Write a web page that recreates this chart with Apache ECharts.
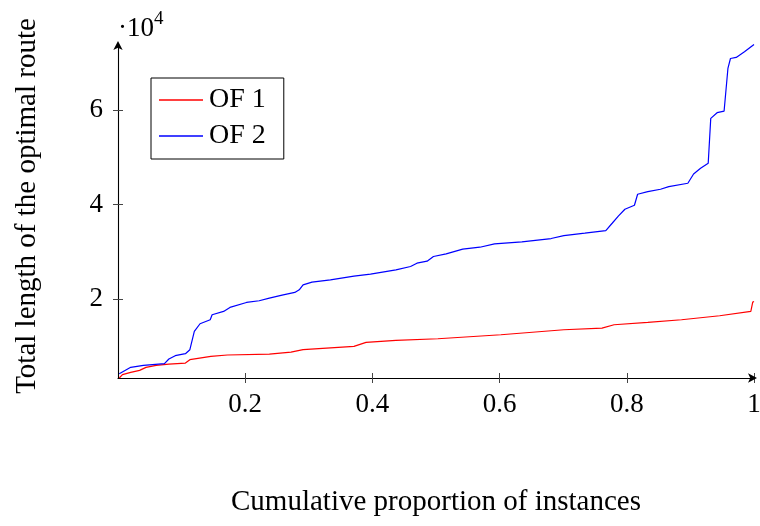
<!DOCTYPE html>
<html>
<head>
<meta charset="utf-8">
<script src="https://cdn.jsdelivr.net/npm/echarts@6/dist/echarts.min.js"></script>
<style>
html,body{margin:0;padding:0;background:#fff;}
#chart{width:760px;height:526px;}
</style>
</head>
<body>
<div id="chart"></div>
<script>
// Data
var seriesNames = ['OF 1', 'OF 2'];
var xOF1 = [0.002, 0.007, 0.020, 0.034, 0.044, 0.060, 0.080, 0.106, 0.113, 0.146, 0.172, 0.238, 0.272, 0.291, 0.371, 0.390, 0.437, 0.503, 0.602, 0.701, 0.761, 0.780, 0.833, 0.886, 0.946, 0.995, 0.998, 1.000];
var yOF1 = [3210, 3920, 4410, 4830, 5470, 5890, 6170, 6380, 7090, 7800, 8080, 8290, 8710, 9210, 9910, 10760, 11180, 11530, 12380, 13440, 13790, 14500, 14990, 15560, 16400, 17320, 19290, 19440];
var xOF2 = [0.002, 0.020, 0.040, 0.073, 0.080, 0.090, 0.106, 0.113, 0.120, 0.129, 0.145, 0.148, 0.166, 0.176, 0.202, 0.222, 0.238, 0.258, 0.278, 0.285, 0.291, 0.305, 0.334, 0.371, 0.397, 0.437, 0.460, 0.470, 0.486, 0.496, 0.516, 0.542, 0.569, 0.592, 0.635, 0.681, 0.701, 0.734, 0.767, 0.777, 0.787, 0.797, 0.812, 0.817, 0.833, 0.853, 0.866, 0.896, 0.905, 0.916, 0.928, 0.932, 0.942, 0.953, 0.959, 0.963, 0.972, 0.985, 1.000];
var yOF2 = [4130, 5470, 5890, 6240, 7230, 7940, 8360, 9210, 13090, 14710, 15560, 16610, 17320, 18170, 19220, 19580, 20140, 20780, 21340, 21900, 22960, 23530, 24020, 24800, 25220, 26140, 26840, 27550, 27970, 28960, 29520, 30510, 30930, 31640, 32060, 32770, 33400, 33900, 34460, 36010, 37570, 38980, 39820, 42150, 42720, 43210, 43770, 44480, 46450, 47650, 48710, 58240, 59440, 59790, 68820, 70930, 71150, 72350, 73900];
var xTicks = [0.2, 0.4, 0.6, 0.8, 1];
var yTicks = [20000, 40000, 60000];
var xTitle = 'Cumulative proportion of instances';
var yTitle = 'Total length of the optimal route';

function zip(xs, ys) { return xs.map(function (x, i) { return [x, ys[i]]; }); }

var FONT = 'Liberation Serif';
var FS = 27;
var FT = 29;
var xMin = 0, xMax = 1, yMin = 3210, yMax = 74000;

var chart = echarts.init(document.getElementById('chart'), null, {renderer: 'canvas'});
var option = {
  backgroundColor: '#ffffff',
  animation: false,
  grid: {left: 118, right: 6, top: 44, bottom: 148, containLabel: false, outerBoundsMode: 'none'},
  legend: {
    orient: 'vertical',
    left: 151, top: 78,
    padding: [8, 18, 9, 8],
    itemGap: 8,
    itemWidth: 44,
    itemHeight: 1.4,
    icon: 'rect',
    borderColor: '#000', borderWidth: 1,
    textStyle: {fontFamily: FONT, fontSize: 28, color: '#000', lineHeight: 28, padding: [0, 0, 0, 1]},
    data: seriesNames
  },
  xAxis: [{
    type: 'value', min: xMin, max: xMax,
    axisLine: {show: true, lineStyle: {color: '#000', width: 1.1}, symbol: ['none', 'arrow'], symbolSize: [7, 9], symbolOffset: [0, 3]},
    axisTick: {show: true, length: 5, lineStyle: {color: '#444', width: 1}, customValues: xTicks},
    axisLabel: {show: true, customValues: xTicks, margin: 13, fontFamily: FONT, fontSize: FS, color: '#000',
      formatter: function (v) { return v === 1 ? '1' : String(v); }},
    splitLine: {show: false},
    name: xTitle, nameLocation: 'middle', nameGap: 110,
    nameTextStyle: {fontFamily: FONT, fontSize: FT, color: '#000'}
  }, {
    type: 'value', min: xMin, max: xMax, position: 'bottom',
    axisLine: {show: false},
    axisTick: {show: true, inside: true, length: 5, lineStyle: {color: '#444', width: 1}, customValues: xTicks},
    axisLabel: {show: false},
    splitLine: {show: false}
  }],
  yAxis: [{
    type: 'value', min: yMin, max: yMax,
    axisLine: {show: true, lineStyle: {color: '#000', width: 1.1}, symbol: ['none', 'arrow'], symbolSize: [7, 9], symbolOffset: [0, 3]},
    axisTick: {show: true, length: 5, lineStyle: {color: '#444', width: 1}, customValues: yTicks},
    axisLabel: {show: true, customValues: yTicks, margin: 15, fontFamily: FONT, fontSize: FS, color: '#000',
      formatter: function (v) { return String(v / 10000); }},
    splitLine: {show: false}
  }, {
    type: 'value', min: yMin, max: yMax, position: 'left',
    axisLine: {show: false},
    axisTick: {show: true, inside: true, length: 5, lineStyle: {color: '#444', width: 1}, customValues: yTicks},
    axisLabel: {show: false},
    splitLine: {show: false}
  }],
  graphic: [{
    type: 'text', left: 118, top: 10,
    style: {
      text: '{a|·10}{b|4}',
      rich: {
        a: {fontFamily: FONT, fontSize: FS, fill: '#000', verticalAlign: 'bottom', lineHeight: 32},
        b: {fontFamily: FONT, fontSize: 19, fill: '#000', verticalAlign: 'top', lineHeight: 32, padding: [0, 0, 10, 0]}
      }
    }
  }, {
    type: 'text', x: 27, y: 206, rotation: Math.PI / 2,
    style: {text: yTitle, fontFamily: FONT, fontSize: FT, fill: '#000', align: 'center', verticalAlign: 'middle'}
  }],
  series: [{
    name: seriesNames[0], type: 'line', xAxisIndex: 0, yAxisIndex: 0,
    data: zip(xOF1, yOF1), symbol: 'none', showSymbol: false,
    lineStyle: {color: '#ff0000', width: 1.2}, itemStyle: {color: '#ff0000'}
  }, {
    name: seriesNames[1], type: 'line', xAxisIndex: 0, yAxisIndex: 0,
    data: zip(xOF2, yOF2), symbol: 'none', showSymbol: false,
    lineStyle: {color: '#0000ff', width: 1.2}, itemStyle: {color: '#0000ff'}
  }]
};
chart.setOption(option);
</script>
</body>
</html>
